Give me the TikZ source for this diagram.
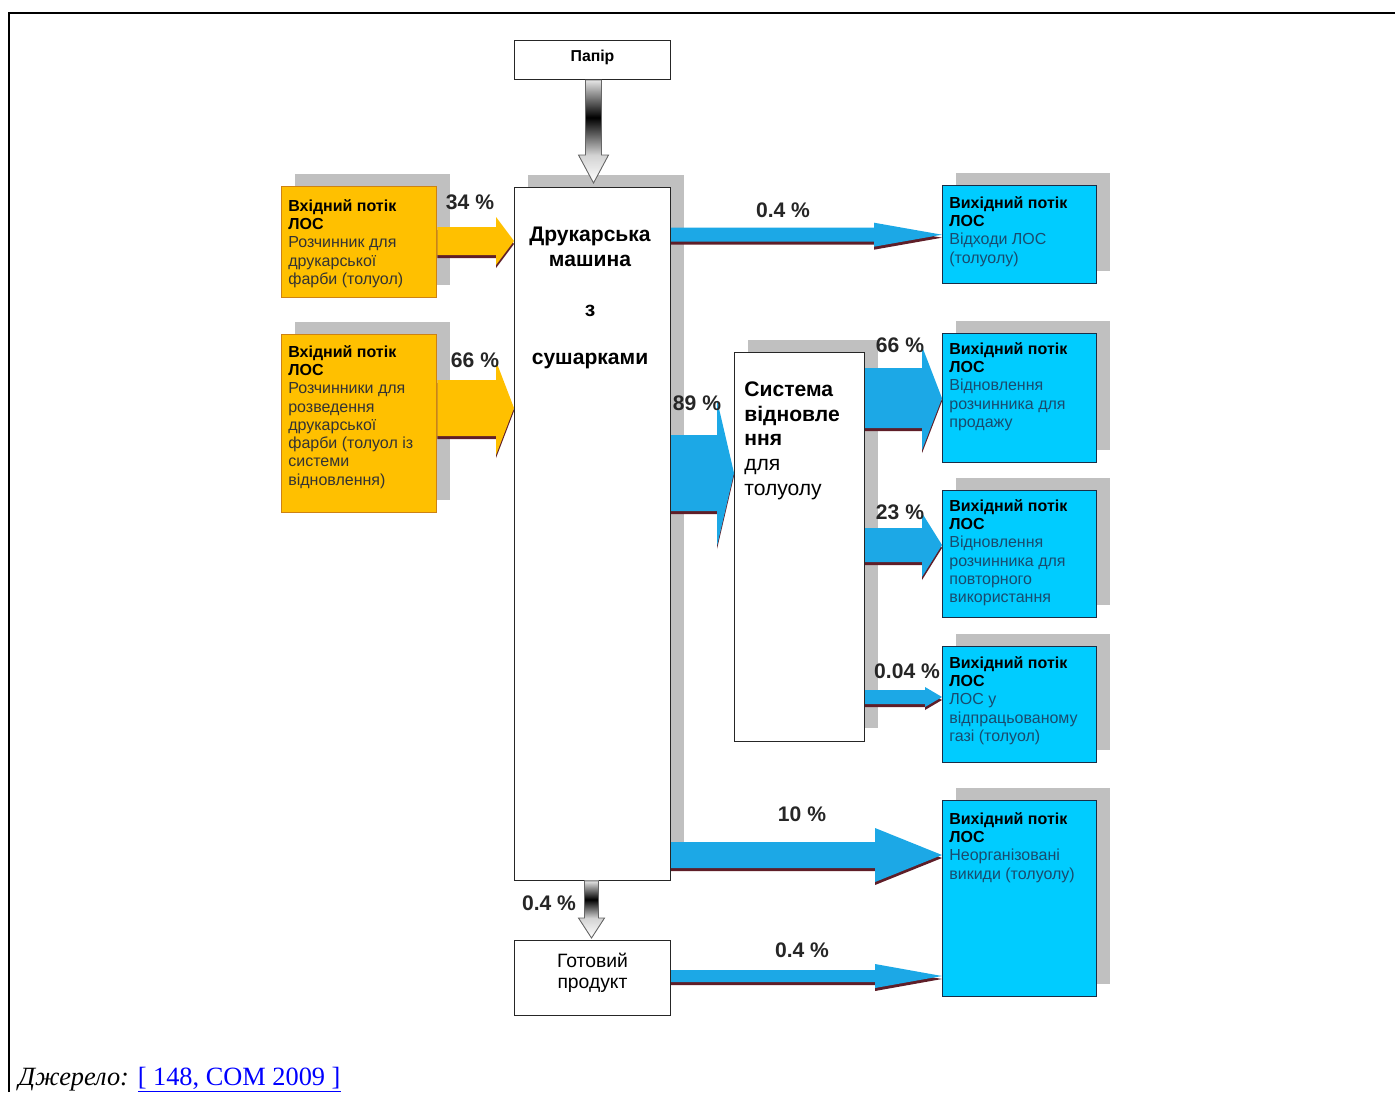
\documentclass[tikz,border=0pt]{standalone}
\usepackage{fontspec}
\setmainfont{Liberation Sans}
\newfontfamily\serifsrc{Liberation Serif}
\usepackage{tikz}
\usetikzlibrary{calc,shadows,positioning}
\definecolor{orfill}{RGB}{255,192,0}
\definecolor{ordraw}{RGB}{205,130,20}
\definecolor{cyfill}{RGB}{0,204,255}
\definecolor{cydraw}{RGB}{25,45,70}
\definecolor{cytext}{RGB}{25,75,110}
\definecolor{flowblue}{RGB}{28,168,230}
\definecolor{flowedge}{RGB}{95,30,40}
\definecolor{shadegris}{RGB}{192,192,192}
\definecolor{linkblue}{RGB}{0,0,255}
\tikzset{
  boxshadow/.style={
    drop shadow={shadow xshift=0.26cm, shadow yshift=0.26cm,
                 fill=shadegris, opacity=1}
  },
  procbox/.style={
    rectangle, draw=black!85, fill=white, line width=0.6pt,
    anchor=north west, inner sep=0
  },
  inbox/.style={
    rectangle, draw=ordraw, fill=orfill, line width=0.8pt,
    anchor=north west, minimum width=3.10cm, boxshadow
  },
  outbox/.style={
    rectangle, draw=cydraw, fill=cyfill, line width=0.8pt,
    anchor=north west, minimum width=3.08cm, boxshadow
  },
  boxtxt/.style={
    anchor=north west, inner sep=0, align=left,
    font=\fontsize{9.1}{10.4}\selectfont
  },
  bigtxt/.style={inner sep=0, font=\fontsize{12}{14.2}\selectfont},
  pct/.style={inner sep=0, font=\fontsize{12}{14}\selectfont\bfseries, text=black!85},
  gradshaft/.style={top color=gray!20, bottom color=gray!35, middle color=black},
  gradhead/.style={top color=gray!35, bottom color=white},
  gradline/.style={draw=black!60, line width=0.5pt}
}
% block arrow: colour, from (x only), tip, shaft half, head half, head length
\newcommand{\fatarrow}[6]{%
  \path (#3) coordinate (fa-t) (#2 |- fa-t) coordinate (fa-s);
  \foreach \dy/\col in {3/flowedge,0/#1}
    \fill[\col] ($(fa-s)+(0,\dy-#4)$) -- ($(fa-t)+(-#6,\dy-#4)$) -- ($(fa-t)+(-#6,\dy-#5)$)
      -- ($(fa-t)+(0,\dy)$) -- ($(fa-t)+(-#6,\dy+#5)$) -- ($(fa-t)+(-#6,\dy+#4)$)
      -- ($(fa-s)+(0,\dy+#4)$) -- cycle;
}
% shaded down arrow: from (y only), tip, shaft half, head half, head length
\newcommand{\gradarrow}[5]{%
  \path (#2) coordinate (ga-t) (ga-t |- #1) coordinate (ga-s);
  \fill[gradshaft] ($(ga-s)+(-#3,0)$) rectangle ($(ga-t)+(#3,-#5)$);
  \fill[gradhead] ($(ga-t)+(-#4,-#5)$) -- (ga-t) -- ($(ga-t)+(#4,-#5)$) -- cycle;
  \draw[gradline] ($(ga-s)+(-#3,0)$) -- ($(ga-t)+(-#3,-#5)$) -- ($(ga-t)+(-#4,-#5)$) -- (ga-t)
    -- ($(ga-t)+(#4,-#5)$) -- ($(ga-t)+(#3,-#5)$) -- ($(ga-s)+(#3,0)$) -- cycle;
}
\begin{document}
\begin{tikzpicture}[x=0.02cm, y=-0.02cm]
  \useasboundingbox (0,0) rectangle (1395,1092);

  % Frame
  \draw[line width=1.7pt] (9,1092) -- (9,13) -- (1395,13);

  % Process boxes
  \node[procbox, minimum width=3.12cm, minimum height=0.78cm, text depth=5.3pt,
        font=\fontsize{9}{11}\selectfont\bfseries] (paper) at (514,40) {Папір};
  \node[procbox, boxshadow, minimum width=3.12cm, minimum height=13.86cm] (press) at (514,187) {};
  \node[procbox, boxshadow, minimum width=2.60cm, minimum height=7.78cm] (recov) at (734,352) {};
  \node[procbox, minimum width=3.12cm, minimum height=1.50cm, align=center, text depth=8pt,
        font=\fontsize{11}{12}\selectfont] (product) at (514,940) {Готовий\\продукт};

  \node[bigtxt, font=\fontsize{12}{14.2}\selectfont\bfseries, align=center, anchor=north]
    (presstxt) at (590,227) {Друкарська\\машина\\[0.5cm]з\\[0.46cm]сушарками};
  \node[bigtxt, anchor=north west, align=left] (recovtxt) at (744,381)
    {\textbf{Система}\\\textbf{відновле}\\\textbf{ння}\\для\\толуолу};

  % Inputs
  \node[inbox, minimum height=2.22cm] (in1) at (281,186) {};
  \node[inbox, minimum height=3.56cm] (in2) at (281,334) {};
  \node[boxtxt, text=black!80] (in1txt) at ($(in1.north west)+(7,13)$)
    {\textbf{\color{black}Вхідний потік}\\\textbf{\color{black}ЛОС}\\Розчинник для\\друкарської\\фарби (толуол)};
  \node[boxtxt, text=black!80] (in2txt) at ($(in2.north west)+(7,11)$)
    {\textbf{\color{black}Вхідний потік}\\\textbf{\color{black}ЛОС}\\Розчинники для\\розведення\\друкарської\\фарби (толуол із\\системи\\відновлення)};

  % Outputs
  \foreach \n/\y/\h in {1/185/1.96, 2/333/2.58, 3/490/2.54, 4/646/2.32, 5/800/3.92}
    \node[outbox, minimum height=\h cm] (out\n) at (942,\y) {};
  \node[boxtxt, text=cytext] (out1txt) at ($(out1.north west)+(7,11)$)
    {\textbf{\color{black}Вихідний потік}\\\textbf{\color{black}ЛОС}\\Відходи ЛОС\\(толуолу)};
  \node[boxtxt, text=cytext] (out2txt) at ($(out2.north west)+(7,9)$)
    {\textbf{\color{black}Вихідний потік}\\\textbf{\color{black}ЛОС}\\Відновлення\\розчинника для\\продажу};
  \node[boxtxt, text=cytext] (out3txt) at ($(out3.north west)+(7,9)$)
    {\textbf{\color{black}Вихідний потік}\\\textbf{\color{black}ЛОС}\\Відновлення\\розчинника для\\повторного\\використання};
  \node[boxtxt, text=cytext] (out4txt) at ($(out4.north west)+(7,10)$)
    {\textbf{\color{black}Вихідний потік}\\\textbf{\color{black}ЛОС}\\ЛОС у\\відпрацьованому\\газі (толуол)};
  \node[boxtxt, text=cytext] (out5txt) at ($(out5.north west)+(7,12)$)
    {\textbf{\color{black}Вихідний потік}\\\textbf{\color{black}ЛОС}\\Неорганізовані\\викиди (толуолу)};

  % Flows
  \gradarrow{paper.south}{$(press.north)+(1,-4)$}{8}{15}{28}
  \gradarrow{press.south}{$(product.north)+(-1,-2)$}{7}{13}{20}
  \fatarrow{orfill}{in1.east}{$(press.north west)+(0,54)$}{14}{24}{18}
  \fatarrow{orfill}{in2.east}{$(press.north west)+(0,221)$}{28}{47}{18}
  \fatarrow{flowblue}{press.east}{out1.west}{7}{12}{68}
  \fatarrow{flowblue}{press.east}{$(recov.north west)+(0,121)$}{38}{73}{17}
  \fatarrow{flowblue}{recov.east}{out2.west}{30}{52}{20}
  \fatarrow{flowblue}{recov.east}{$(out3.north west)+(0,55)$}{17}{32}{20}
  \fatarrow{flowblue}{recov.east}{$(out4.north west)+(0,51)$}{7}{10}{17}
  \fatarrow{flowblue}{press.east}{$(out5.north west)+(0,55)$}{13}{27}{67}
  \fatarrow{flowblue}{product.east}{$(out5.north west)+(0,176)$}{6}{12}{67}

  % Percentages
  \node[pct] (p34) at (470,202) {34 \%};
  \node[pct] (p66in) at (475,360) {66 \%};
  \node[pct] (p04top) at (783,210) {0.4 \%};
  \node[pct] (p89) at (697,403) {89 \%};
  \node[pct] (p66out) at (900,345) {66 \%};
  \node[pct] (p23) at (900,512) {23 \%};
  \node[pct] (p004) at (907,671) {0.04 \%};
  \node[pct] (p10) at (802,814) {10 \%};
  \node[pct] (p04bot) at (802,950) {0.4 \%};
  \node[pct] (p04prod) at (549,903) {0.4 \%};

  % Source
  \node[anchor=base west, inner sep=0, font=\serifsrc\fontsize{15}{17}\selectfont] (src) at (18,1085)
    {\textit{Джерело:} \textcolor{linkblue}{\underline{[ 148, COM 2009 ]}}};
\end{tikzpicture}
\end{document}
